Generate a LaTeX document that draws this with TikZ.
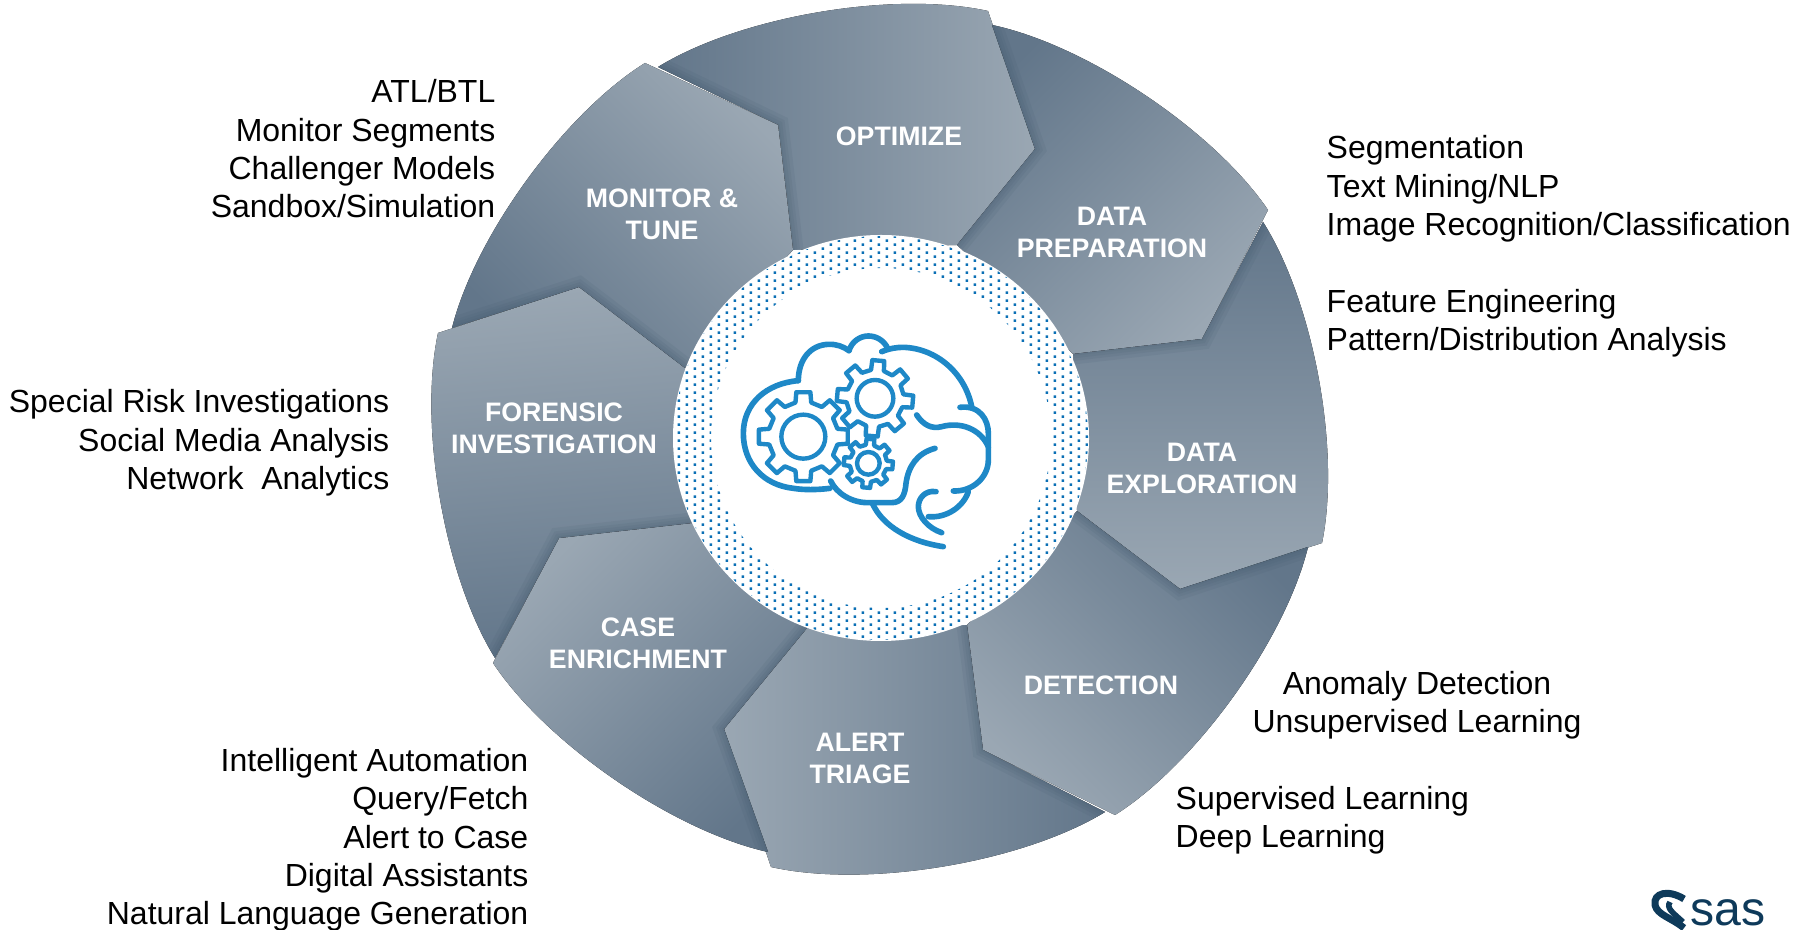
\documentclass[tikz,border=0pt]{standalone}
\usepackage{fontspec}
\setmainfont{Liberation Sans}
\usepackage{xcolor}
\definecolor{segdark}{HTML}{62768A}
\definecolor{seglight}{HTML}{9AA7B3}
\definecolor{segshade}{HTML}{3F566A}
\definecolor{dotblue}{HTML}{0A6FB5}
\definecolor{brainblue}{HTML}{1E88C7}
\definecolor{logoblue}{HTML}{0E3A5A}
\tikzset{
	seg/.style={top color=seglight,bottom color=segdark},
	seglabel/.style={text=white,align=center,font=\bfseries\fontsize{7.6}{9.1}\selectfont},
	notelabel/.style={text=black,font=\fontsize{9.1}{10.9}\selectfont},
	brainline/.style={draw=brainblue,line width=1.6pt,line cap=round,line join=round},
}
% one wheel piece: shading angle, outline, edge that the piece before it lies on
\newcommand{\wheelpiece}[3]{
	\fill[seg,shading angle=#1] #2;
	\begin{scope}
		\clip #2;
		\foreach \w in {6,4,2.5,1}{\draw[segshade,opacity=.1,line width=\w pt] #3;}
	\end{scope}
}
% gear: teeth radius, root radius, hole radius, turn
\newcommand{\braingear}[4]{
	\draw[brainline,line width=1.25pt] (#4-32:#2) \foreach \a in {0,45,...,315}{
		-- (\a+#4-13:#2) -- (\a+#4-9:#1) -- (\a+#4+9:#1) -- (\a+#4+13:#2)} -- cycle;
	\draw[brainline,line width=1.25pt] (0,0) circle (#3);
}
\begin{document}
\begin{tikzpicture}[x=.1mm,y=-.1mm,bend angle=22,looseness=.74]
	\useasboundingbox (0,0) rectangle (1795,930);
	% inner corners shared by two pieces
	\coordinate (MO1) at (778,125);
	\coordinate (MO2) at (793,250);
	\coordinate (OD1) at (1035,149);
	\coordinate (OD2) at (957,245);
	\coordinate (DE1) at (1202,339);
	\coordinate (DE2) at (1073,354);
	\coordinate (ED1) at (1180,589);
	\coordinate (ED2) at (1077,511);
	\coordinate (DT1) at (983,750);
	\coordinate (DT2) at (967,625);
	\coordinate (TC1) at (724,729);
	\coordinate (TC2) at (807,628);
	\coordinate (CF1) at (559,538);
	\coordinate (CF2) at (692,523);
	\coordinate (FM1) at (579,287);
	\coordinate (FM2) at (685,368);
	% ends on the rim
	\coordinate (mona) at (452,328);
	\coordinate (monb) at (645,63);
	\coordinate (opta) at (658,67);
	\coordinate (optb) at (988,11);
	\coordinate (prea) at (992,25);
	\coordinate (preb) at (1268,210);
	\coordinate (expa) at (1263,222);
	\coordinate (expb) at (1322,543);
	\coordinate (deta) at (1308,547);
	\coordinate (detb) at (1115,815);
	\coordinate (tria) at (1105,812);
	\coordinate (trib) at (771,867);
	\coordinate (casa) at (768,852);
	\coordinate (casb) at (493,663);
	\coordinate (fora) at (495,658);
	\coordinate (forb) at (438,333);

	\wheelpiece{-90}{(opta) to[bend left] (optb) -- (OD1) -- (OD2) -- (MO2) -- (MO1) -- cycle}{(opta) -- (MO1) -- (MO2)}
	\wheelpiece{-135}{(prea) to[bend left] (preb) -- (DE1) -- (DE2) -- (OD2) -- (OD1) -- cycle}{(prea) -- (OD1) -- (OD2)}
	\wheelpiece{180}{(expa) to[bend left] (expb) -- (ED1) -- (ED2) -- (DE2) -- (DE1) -- cycle}{(expa) -- (DE1) -- (DE2)}
	\wheelpiece{135}{(deta) to[bend left] (detb) -- (DT1) -- (DT2) -- (ED2) -- (ED1) -- cycle}{(deta) -- (ED1) -- (ED2)}
	\wheelpiece{90}{(tria) to[bend left] (trib) -- (TC1) -- (TC2) -- (DT2) -- (DT1) -- cycle}{(tria) -- (DT1) -- (DT2)}
	\wheelpiece{45}{(casa) to[bend left] (casb) -- (CF1) -- (CF2) -- (TC2) -- (TC1) -- cycle}{(casa) -- (TC1) -- (TC2)}
	\wheelpiece{5}{(fora) to[bend left] (forb) -- (FM1) -- (FM2) -- (CF2) -- (CF1) -- cycle}{(fora) -- (CF1) -- (CF2)}
	\wheelpiece{-45}{(mona) to[bend left] (monb) -- (MO1) -- (MO2) -- (FM2) -- (FM1) -- cycle}{(mona) -- (FM1) -- (FM2)}

	% centre disc with the dotted ring
	\fill[white] (881,438) ellipse [x radius=208,y radius=203];
	\begin{scope}[even odd rule]
		\clip (881,438) ellipse [x radius=207,y radius=202] (881,438) circle (170);
		\fill[dotblue] \foreach \r in {0,...,52}{\foreach \c in {0,...,28}{
			({653.5+16*\c},{227.5+8*\r}) rectangle ++(2.5,2.5)
			({661.5+16*\c},{231.5+8*\r}) rectangle ++(2.5,2.5)}};
	\end{scope}

	% brain, in a grid three times finer
	\begin{scope}[shift={(660,220)},scale=1/3]
		\draw[brainline] (510,805) .. controls (470,810) and (430,810) .. (400,805) .. controls (310,795) and (250,730) .. (250,640) .. controls (250,550) and (320,490) .. (415,482);
		\draw[brainline] (415,482) .. controls (415,420) and (450,375) .. (505,373) .. controls (530,372) and (550,380) .. (567,392);
		\draw[brainline] (567,392) .. controls (575,365) and (600,348) .. (625,348) .. controls (650,348) and (672,362) .. (683,385);
		\draw[brainline] (665,395) .. controls (690,385) and (710,382) .. (730,382) .. controls (830,385) and (915,460) .. (935,560);
		\draw[brainline] (900,562) .. controls (960,555) and (985,600) .. (985,640) -- (985,720) .. controls (985,770) and (940,815) .. (880,813);
		\draw[brainline] (770,585) .. controls (790,615) and (815,628) .. (845,620) .. controls (900,605) and (960,625) .. (985,680);
		\draw[brainline] (825,685) .. controls (770,700) and (745,740) .. (738,790) .. controls (735,825) and (725,848) .. (695,848) -- (630,848) .. controls (575,850) and (530,820) .. (512,783);
		\draw[brainline] (638,852) .. controls (670,920) and (750,965) .. (850,980);
		\draw[brainline] (828,815) .. controls (795,810) and (775,835) .. (775,860) .. controls (775,890) and (805,925) .. (845,938);
		\draw[brainline] (805,890) .. controls (860,895) and (910,860) .. (925,815);
		\begin{scope}[shift={(430,650)}]
			\braingear{135}{105}{66}{0}
		\end{scope}
		\begin{scope}[shift={(645,535)}]
			\braingear{115}{86}{55}{5}
		\end{scope}
		\begin{scope}[shift={(625,730)}]
			\braingear{74}{56}{34}{5}
		\end{scope}
	\end{scope}

	% piece titles
	\node[seglabel] (optimize) at (899,136) {OPTIMIZE};
	\node[seglabel] (preparation) at (1112,232) {DATA\\PREPARATION};
	\node[seglabel] (exploration) at (1202,468) {DATA\\EXPLORATION};
	\node[seglabel] (detection) at (1101,685) {DETECTION};
	\node[seglabel] (triage) at (860,758) {ALERT\\TRIAGE};
	\node[seglabel] (enrichment) at (638,643) {CASE\\ENRICHMENT};
	\node[seglabel] (forensic) at (554,428) {FORENSIC\\INVESTIGATION};
	\node[seglabel] (monitor) at (662,214) {MONITOR \&\\TUNE};

	% notes round the wheel
	\node[notelabel,align=right,anchor=east,inner sep=0pt] (notemonitor) at (496,149) {ATL/BTL\\Monitor Segments\\Challenger Models\\Sandbox/Simulation};
	\node[notelabel,align=right,anchor=east,inner sep=0pt] (noteforensic) at (390,443) {Special Risk Investigations\\Social Media Analysis\\Network\ \ Analytics};
	\node[notelabel,align=right,anchor=east,inner sep=0pt] (notecase) at (529,840) {Intelligent Automation\\Query/Fetch\\Alert to Case\\Digital Assistants\\Natural Language Generation};
	\node[notelabel,align=left,anchor=west,inner sep=0pt] (noteprep) at (1326,189) {Segmentation\\Text Mining/NLP\\Image Recognition/Classification};
	\node[notelabel,align=left,anchor=west,inner sep=0pt] (noteexplore) at (1326,323) {Feature Engineering\\Pattern/Distribution Analysis};
	\node[notelabel,align=center,inner sep=0pt] (noteanomaly) at (1417,705) {Anomaly Detection\\Unsupervised Learning};
	\node[notelabel,align=left,anchor=west,inner sep=0pt] (notesuper) at (1175,820) {Supervised Learning\\Deep Learning};

	% logo, at the lower edge
	\node[logoblue,anchor=base west,inner sep=0pt,font=\fontsize{13.7}{14}\selectfont] (logotext) at (1690,925) {sas};
	\draw[logoblue,line width=2pt] (1684,899) .. controls (1668,889) and (1653,893) .. (1655,905) .. controls (1657,915) and (1672,918) .. (1684,928);
	\draw[logoblue,line width=1.6pt] (1670,902) .. controls (1666,908) and (1672,912) .. (1683,922);
\end{tikzpicture}
\end{document}
